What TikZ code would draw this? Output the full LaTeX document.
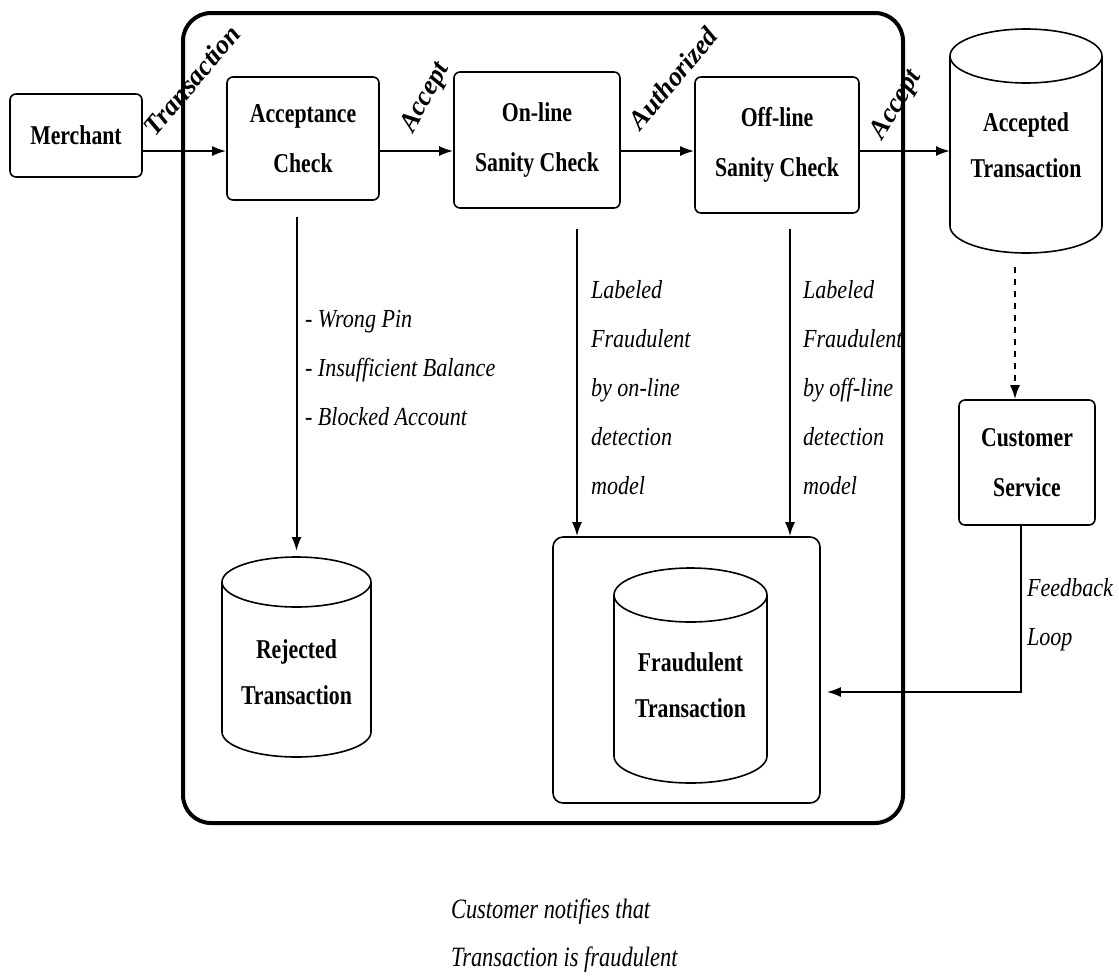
\documentclass[tikz,border=0pt]{standalone}
\usepackage{fontspec}
\setmainfont{Liberation Serif}
\newfontfamily\boxfont[FakeStretch=0.8]{Liberation Serif}
\newfontfamily\notefont[FakeStretch=0.85]{Liberation Serif}
\usetikzlibrary{calc,arrows.meta,positioning}

% outline of a store round a (drawless) node: name, cap radius
\newcommand\drum[2]{%
  \draw[line width=0.8pt] let \p1=(#1.north west), \p2=(#1.south east),
    \n1={(\x2-\x1)/2} in
    (\x1,\y1-#2) -- (\x1,\y2+#2)
    arc[start angle=180, end angle=360, x radius=\n1, y radius=#2]
    -- (\x2,\y1-#2)
    (\x1+\n1,\y1-#2) ellipse[x radius=\n1, y radius=#2];}

\begin{document}
\begin{tikzpicture}[x=0.5pt,y=-0.5pt,
  box/.style={draw, line width=0.8pt, rounded corners=3pt, align=center,
    font=\boxfont\bfseries\fontsize{13.6}{25}\selectfont},
  db/.style={rectangle, outer sep=0pt, inner sep=0pt},
  dbtext/.style={align=center, font=\boxfont\bfseries\fontsize{13.6}{23}\selectfont},
  note/.style={align=left, font=\notefont\itshape\fontsize{13}{24.5}\selectfont},
  tag/.style={font=\bfseries\itshape\fontsize{13.5}{16}\selectfont},
  flow/.style={->, line width=1pt},
  >={Latex[length=7pt,width=5pt]}]

  \useasboundingbox (0,0) rectangle (1119,976);

  % outer frame
  \draw[line width=2pt, rounded corners=14pt] (183,13) rectangle (903,823);

  \node[box, minimum width=66pt, minimum height=41.5pt] (merchant) at (76,135.5) {Merchant};
  \node[box, minimum width=76pt, minimum height=61.5pt] (accept) at (303,138.5) {Acceptance\\Check};
  \node[box, minimum width=83pt, minimum height=68pt] (online) at (537,140) {On-line\\Sanity Check};
  \node[box, minimum width=82pt, minimum height=68pt] (offline) at (777,145) {Off-line\\Sanity Check};
  \node[box, minimum width=68pt, minimum height=62.5pt] (service) at (1027,462.5) {Customer\\Service};

  % the three stores
  \node[db, minimum width=76pt, minimum height=112pt] (accepted) at (1026,141) {};
  \drum{accepted}{13.5pt}
  \node[dbtext] (acceptedtext) at (1026,145) {Accepted\\Transaction};
  \node[db, minimum width=74.5pt, minimum height=100pt] (rejected) at (296.5,657) {};
  \drum{rejected}{12.5pt}
  \node[dbtext] (rejectedtext) at (296.5,672) {Rejected\\Transaction};
  \node[draw, line width=0.8pt, rounded corners=5pt, minimum width=133.5pt,
    minimum height=133pt] (fraudbox) at (686.5,670) {};
  \node[db, minimum width=76.5pt, minimum height=107.5pt] (fraud) at (690.5,675.5) {};
  \drum{fraud}{13.5pt}
  \node[dbtext] (fraudtext) at (690.5,685.5) {Fraudulent\\Transaction};

  % main flow
  \coordinate (row) at (0,151);
  \draw[flow] (merchant.east |- row) -- (accept.west |- row);
  \draw[flow] (accept.east |- row) -- (online.west |- row);
  \draw[flow] (online.east |- row) -- (offline.west |- row);
  \draw[flow] (offline.east |- row) -- (accepted.west |- row);

  \node[tag, rotate=50] (ttrans) at (192,80) {Transaction};
  \node[tag, rotate=61] (taccept) at (426,98) {Accept};
  \node[tag, rotate=50] (tauth) at (673,78) {Authorized};
  \node[tag, rotate=59] (taccept2) at (897,105) {Accept};

  % rejections and detections
  \draw[flow, shorten <=8pt, shorten >=3pt] (rejected.north |- accept.south) -- (rejected.north);
  \draw[flow, shorten <=10pt] ([xshift=20pt]online.south) -- ([xshift=20pt]online.south |- fraudbox.north);
  \draw[flow, shorten <=7.5pt] ([xshift=6.5pt]offline.south) -- ([xshift=6.5pt]offline.south |- fraudbox.north);

  \node[note, anchor=west] (reasons) at (298,368) {- Wrong Pin\\- Insufficient Balance\\- Blocked Account};
  \node[note, anchor=west] (onlab) at (584,387.5) {Labeled\\Fraudulent\\by on-line\\detection\\model};
  \node[note, anchor=west] (offlab) at (796,387.5) {Labeled\\Fraudulent\\by off-line\\detection\\model};

  % feedback
  \draw[flow, dashed, shorten <=7pt] ([xshift=-5.5pt]accepted.south) -- ([xshift=-5.5pt]accepted.south |- service.north);
  \draw[flow, shorten >=3pt] ([xshift=-3pt]service.south) |- ([yshift=-11pt]fraudbox.east);
  \node[note, anchor=west] (fblab) at (1020,615) {Feedback\\Loop};

  \node[align=left, anchor=west, font=\boxfont\itshape\fontsize{14}{24}\selectfont]
    (notify) at (444,936) {Customer notifies that\\Transaction is fraudulent};
\end{tikzpicture}
\end{document}
